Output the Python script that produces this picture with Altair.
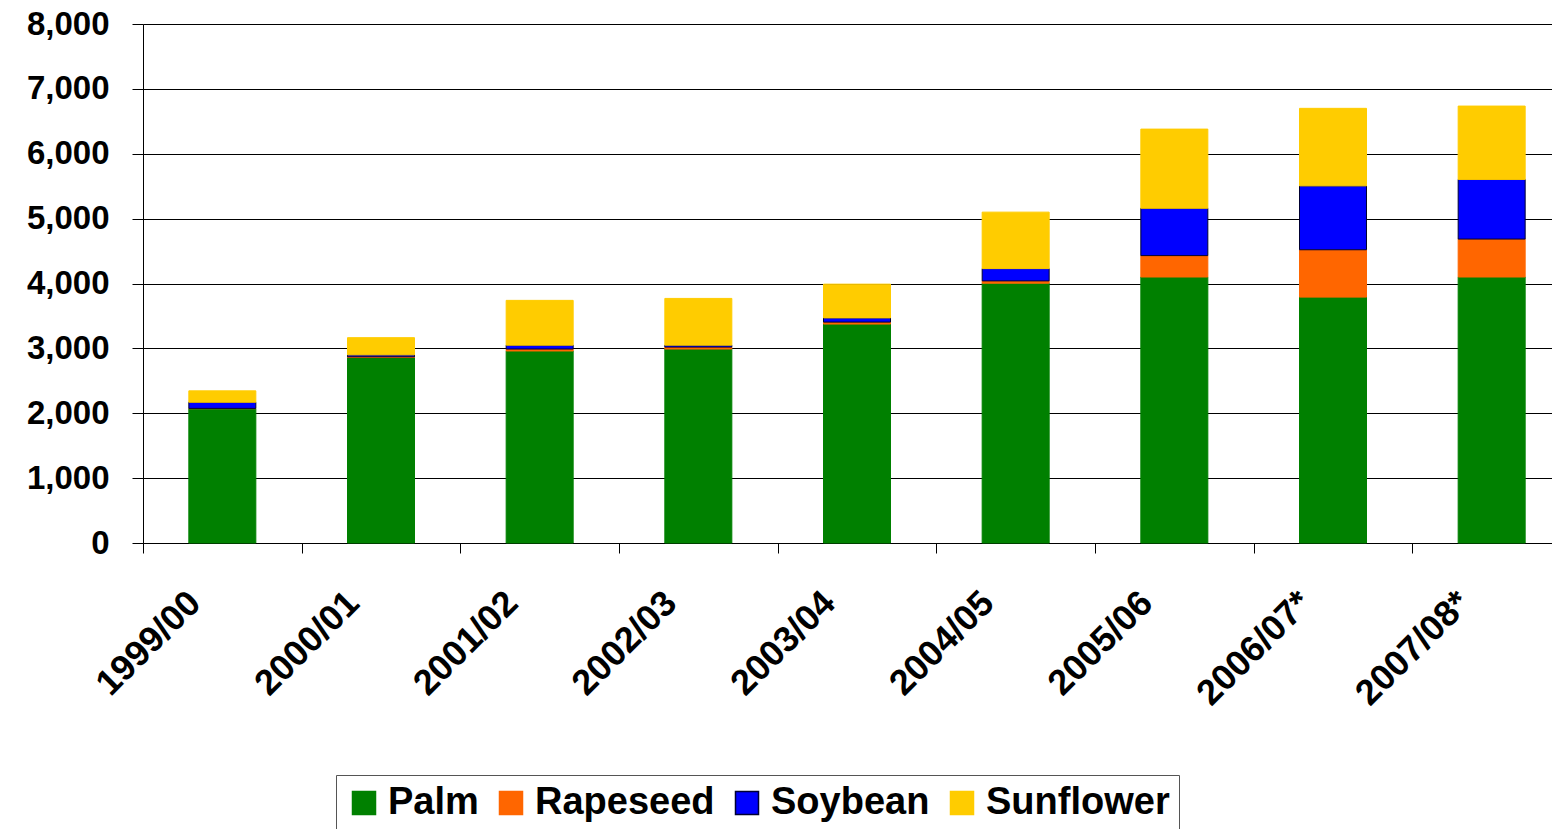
import altair as alt
import pandas as pd

years = ["1999/00", "2000/01", "2001/02", "2002/03", "2003/04",
         "2004/05", "2005/06", "2006/07*", "2007/08*"]
crops = ["Palm", "Rapeseed", "Soybean", "Sunflower"]
palm = [2070, 2860, 2960, 2990, 3375, 4005, 4100, 3790, 4100]
rapeseed = [5, 10, 30, 30, 30, 35, 330, 730, 585]
soybean = [95, 30, 60, 30, 65, 190, 730, 985, 920]
sunflower = [175, 265, 690, 720, 520, 870, 1220, 1195, 1130]
y_ticks = [0, 1000, 2000, 3000, 4000, 5000, 6000, 7000, 8000]

fill_colors = ["#008000", "#FF6600", "#0000FF", "#FFCC00"]
stroke_colors = ["#008000", "#FF6600", "#000033", "#FFCC00"]

series = {"Palm": palm, "Rapeseed": rapeseed, "Soybean": soybean, "Sunflower": sunflower}
rows = []
for ci, crop in enumerate(crops):
    for yi, yr in enumerate(years):
        rows.append({"year": yr, "crop": crop, "order": ci, "value": series[crop][yi]})
df = pd.DataFrame(rows)

FONT = "Liberation Sans"

chart = alt.Chart(df).mark_bar(size=67, strokeWidth=1).encode(
    x=alt.X("year:N", sort=years, title=None,
            scale=alt.Scale(range=[0, 1428], paddingInner=0, paddingOuter=0),
            axis=alt.Axis(labelAngle=-45, labelAlign="right", labelBaseline="middle",
                          labelOffset=-28, labelPadding=44, tickBand="extent",
                          tickSize=10, tickColor="black", domainColor="black",
                          labelFont=FONT, labelFontSize=36, labelFontWeight="bold",
                          labelColor="black", grid=False, labelLimit=0)),
    y=alt.Y("value:Q", stack="zero", title=None,
            scale=alt.Scale(domain=[0, 8000], nice=False),
            axis=alt.Axis(values=y_ticks, format=",.0f", tickSize=11, tickColor="black",
                          domainColor="black", gridColor="black", gridWidth=1, gridOpacity=1,
                          labelFont=FONT, labelFontSize=33, labelFontWeight="bold",
                          labelColor="black", labelPadding=23)),
    color=alt.Color("crop:N", sort=crops, title=None,
                    scale=alt.Scale(domain=crops, range=fill_colors),
                    legend=alt.Legend(orient="none", legendX=193, legendY=751,
                                      direction="horizontal", symbolType="square",
                                      symbolSize=529, labelFont=FONT, labelFontSize=38,
                                      labelFontWeight="bold", labelColor="black",
                                      labelOffset=5, columnPadding=13, padding=9,
                                      labelLimit=0,
                                      strokeColor="#555555", fillColor="white",
                                      symbolOpacity=1)),
    stroke=alt.Stroke("crop:N", sort=crops, title=None,
                      scale=alt.Scale(domain=crops, range=stroke_colors), legend=None),
    order=alt.Order("order:Q", sort="ascending"),
).properties(
    width=1409, height=519,
    autosize=alt.AutoSizeParams(type="none"),
    padding={"left": 135, "top": 16, "right": 0, "bottom": 286},
).configure_view(stroke=None).configure(background="white")

chart.save("out.html", embed_options={"renderer": "svg", "actions": False})
